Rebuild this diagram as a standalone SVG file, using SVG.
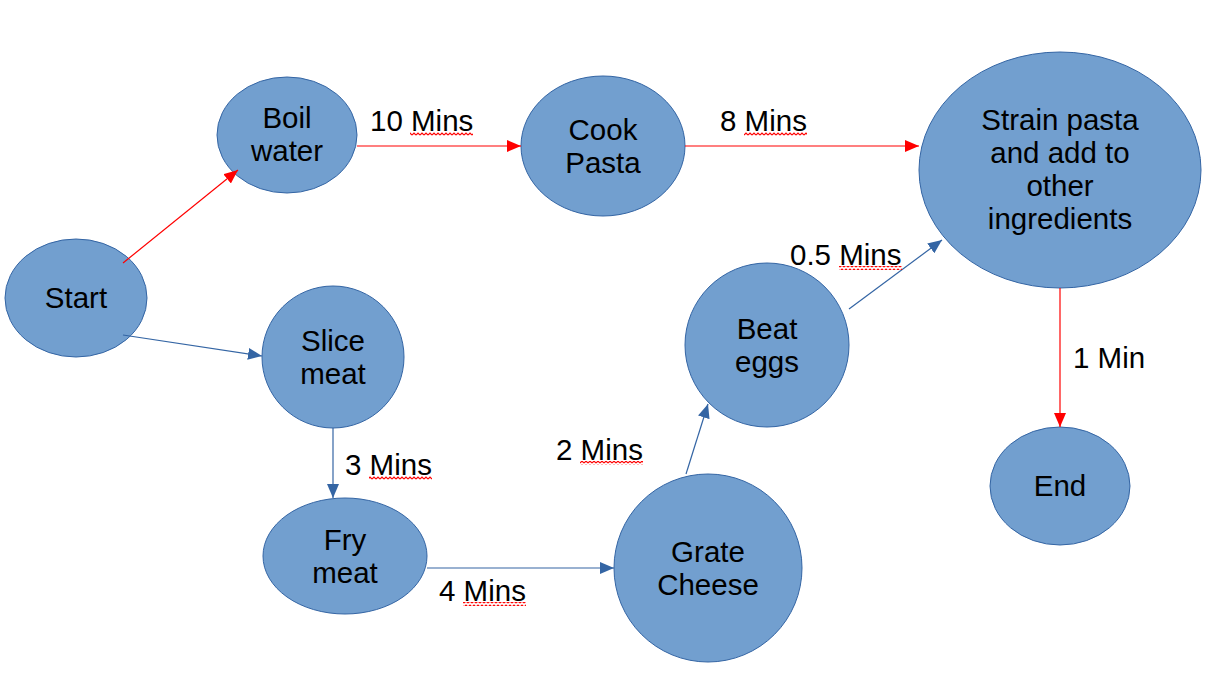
<svg xmlns="http://www.w3.org/2000/svg" width="1224" height="695" viewBox="0 0 1224 695">
<style>
.node ellipse{fill:#729fcf;stroke:#3465a4;stroke-width:1}
text{font-family:"Liberation Sans",Arial,sans-serif;font-size:29.5px;fill:#000}
.node text{text-anchor:middle}
.red{stroke:#ff0000;stroke-width:1.2;fill:none;marker-end:url(#ar)}
.blue{stroke:#3465a4;stroke-width:1.2;fill:none;marker-end:url(#ab)}
.sq{fill:url(#wave)}
</style>
<defs>
<marker id="ar" markerUnits="userSpaceOnUse" markerWidth="15" markerHeight="13" refX="14" refY="6" orient="auto"><path d="M0,0 L14,6 L0,12 z" fill="#ff0000"/></marker>
<marker id="ab" markerUnits="userSpaceOnUse" markerWidth="15" markerHeight="13" refX="14" refY="6" orient="auto"><path d="M0,0 L14,6 L0,12 z" fill="#3465a4"/></marker>
<pattern id="wave" patternUnits="userSpaceOnUse" width="4" height="4"><path d="M0,3 L2,1 L4,3" stroke="#ff0000" stroke-width="1.2" fill="none"/></pattern>
</defs>
<rect width="1224" height="695" fill="#fff"/>
<g id="start" class="node"><ellipse cx="76" cy="298" rx="71" ry="59"/><text x="76" y="308">Start</text></g>
<g id="boil" class="node"><ellipse cx="287" cy="135" rx="70" ry="58"/><text x="287" y="128">Boil</text><text x="287" y="161">water</text></g>
<g id="cook" class="node"><ellipse cx="603" cy="146" rx="82" ry="70"/><text x="603" y="140">Cook</text><text x="603" y="173">Pasta</text></g>
<g id="strain" class="node"><ellipse cx="1060" cy="170" rx="141" ry="118"/><text x="1060" y="130">Strain pasta</text><text x="1060" y="163">and add to</text><text x="1060" y="196">other</text><text x="1060" y="229">ingredients</text></g>
<g id="slice" class="node"><ellipse cx="333" cy="357" rx="71" ry="71"/><text x="333" y="351">Slice</text><text x="333" y="384">meat</text></g>
<g id="fry" class="node"><ellipse cx="345" cy="556" rx="82" ry="58"/><text x="345" y="550">Fry</text><text x="345" y="583">meat</text></g>
<g id="grate" class="node"><ellipse cx="708" cy="568" rx="94" ry="94"/><text x="708" y="562">Grate</text><text x="708" y="595">Cheese</text></g>
<g id="beat" class="node"><ellipse cx="767" cy="345" rx="82" ry="82"/><text x="767" y="339">Beat</text><text x="767" y="372">eggs</text></g>
<g id="end" class="node"><ellipse cx="1060" cy="486" rx="70" ry="59"/><text x="1060" y="496">End</text></g>
<g id="connectors">
<line class="red" x1="123" y1="263" x2="238" y2="170"/>
<line class="red" x1="357" y1="146" x2="521" y2="146"/>
<line class="red" x1="685" y1="146" x2="919" y2="146"/>
<line class="red" x1="1060" y1="288" x2="1060" y2="427"/>
<line class="blue" x1="123" y1="335" x2="262" y2="356"/>
<line class="blue" x1="333" y1="428" x2="333" y2="498"/>
<line class="blue" x1="427" y1="568" x2="614" y2="568"/>
<line class="blue" x1="686" y1="474" x2="708" y2="404"/>
<line class="blue" x1="849" y1="309" x2="942" y2="240"/>
<text x="370" y="131">10 Mins</text>
<text x="720" y="131">8 Mins</text>
<text x="790" y="265">0.5 Mins</text>
<text x="345" y="475">3 Mins</text>
<text x="556" y="460">2 Mins</text>
<text x="439" y="601">4 Mins</text>
<text x="1073" y="368">1 Min</text>
<rect class="sq" x="410" y="132" width="63" height="4"/>
<rect class="sq" x="744" y="132" width="63" height="4"/>
<rect class="sq" x="839" y="266" width="63" height="4"/>
<rect class="sq" x="369" y="476" width="63" height="4"/>
<rect class="sq" x="580" y="461" width="63" height="4"/>
<rect class="sq" x="463" y="602" width="63" height="4"/>
</g>
</svg>
